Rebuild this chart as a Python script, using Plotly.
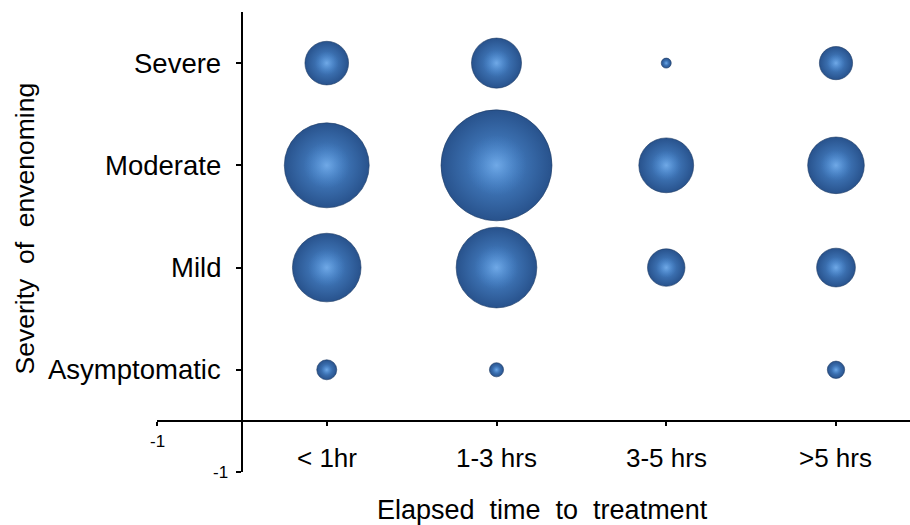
import plotly.graph_objects as go

# ---- data ----
time_labels = ["< 1hr", "1-3 hrs", "3-5 hrs", ">5 hrs"]
severity_labels = ["Asymptomatic", "Mild", "Moderate", "Severe"]
# counts by severity (rows) x elapsed time (cols)
asymptomatic = [4, 2, 0, 3]
mild = [47, 65, 14, 15]
moderate = [72, 123, 30, 32]
severe = [19, 25, 1, 11]
series = [asymptomatic, mild, moderate, severe]

xs, ys, vals = [], [], []
for yi, row in enumerate(series, start=1):
    for xi, v in enumerate(row, start=1):
        xs.append(xi)
        ys.append(yi)
        vals.append(v)

max_d = 111
sizeref = 2.0 * max(vals) / (max_d ** 2)

fig = go.Figure()
# sphere body: radial gradient (gradient.color = centre, marker.color = rim)
fig.add_trace(go.Scatter(
    x=xs, y=ys, mode="markers",
    marker=dict(size=vals, sizemode="area", sizeref=sizeref, opacity=1,
                color="#28528c",
                gradient=dict(type="radial", color="#4e8dd4"),
                line=dict(width=0.6, color="#1c3a64")),
    hoverinfo="skip", showlegend=False,
))
# soft highlight
fig.add_trace(go.Scatter(
    x=xs, y=ys, mode="markers",
    marker=dict(size=[v * 0.30 for v in vals], sizemode="area", sizeref=sizeref, opacity=1,
                color="rgba(78,141,212,0)",
                gradient=dict(type="radial", color="rgba(140,192,246,0.55)"),
                line=dict(width=0)),
    hoverinfo="skip", showlegend=False,
))

X_MAX = 4.436
Y_MAX = 4.5
font = "Liberation Sans, Arial, sans-serif"

annotations = []
for i, t in enumerate(time_labels, start=1):
    annotations.append(dict(x=i, y=0.5, xref="x", yref="y", text=t, showarrow=False,
                            yshift=-37, font=dict(size=26, color="black", family=font)))
for i, s in enumerate(severity_labels, start=1):
    annotations.append(dict(x=0.5, y=i, xref="x", yref="y", text=s, showarrow=False,
                            xanchor="right", xshift=-19, font=dict(size=27.5, color="black", family=font)))
annotations.append(dict(x=0, y=0.5, xref="x", yref="y", text="-1", showarrow=False,
                        yshift=-21, font=dict(size=17, color="black", family=font)))
annotations.append(dict(x=0.5, y=0, xref="x", yref="y", text="-1", showarrow=False,
                        xanchor="right", xshift=-12, font=dict(size=17, color="black", family=font)))
annotations.append(dict(x=0.5126, y=-0.083, xref="paper", yref="paper",
                        xanchor="center", yanchor="middle",
                        text="Elapsed\u00a0 time\u00a0 to\u00a0 treatment", showarrow=False,
                        font=dict(size=27, color="black", family=font)))
annotations.append(dict(x=-0.175, y=0.530, xref="paper", yref="paper",
                        xanchor="center", yanchor="middle",
                        text="Severity\u00a0 of\u00a0 envenoming", showarrow=False, textangle=-90,
                        font=dict(size=26.5, color="black", family=font)))

fig.update_layout(
    width=910, height=525,
    margin=dict(l=157, r=0, t=12, b=53),
    paper_bgcolor="white", plot_bgcolor="white",
    xaxis=dict(range=[0, X_MAX], showgrid=False, zeroline=False,
               showline=True, linecolor="black", linewidth=2,
               anchor="free", position=0.5 / Y_MAX,
               tickmode="array", tickvals=[0, 1, 2, 3, 4], ticks="outside",
               ticklen=4, tickwidth=2, tickcolor="black", showticklabels=False),
    yaxis=dict(range=[0, Y_MAX], showgrid=False, zeroline=False,
               showline=True, linecolor="black", linewidth=2,
               anchor="free", position=0.5 / X_MAX,
               tickmode="array", tickvals=[0, 1, 2, 3, 4], ticks="outside",
               ticklen=5, tickwidth=2, tickcolor="black", showticklabels=False),
    annotations=annotations,
)

fig.write_html("out.html")
